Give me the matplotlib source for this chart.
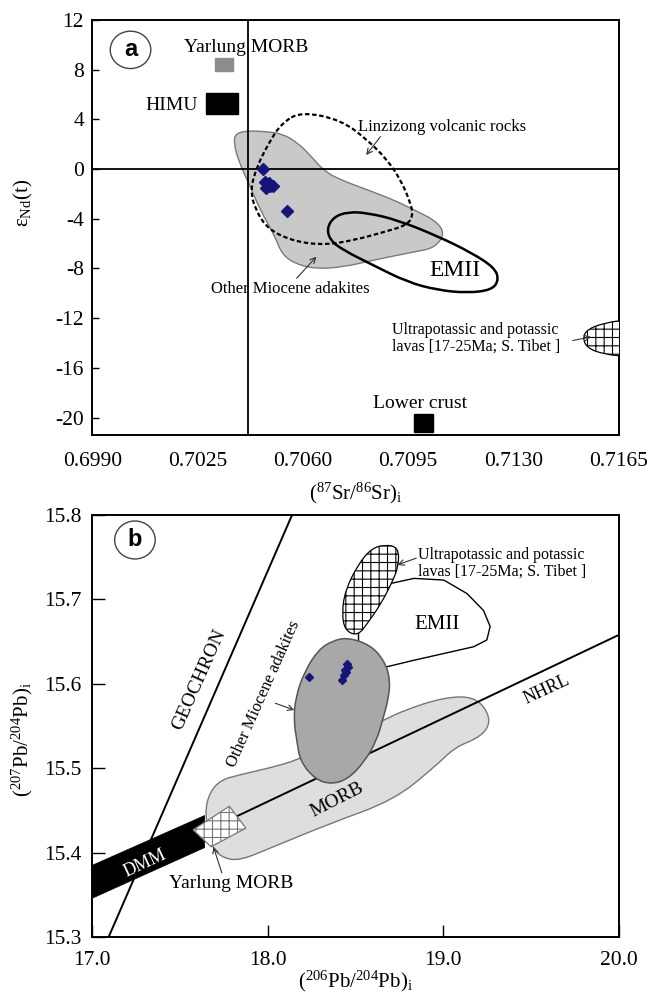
import numpy as np
import matplotlib
matplotlib.use('Agg')
import matplotlib.pyplot as plt
from matplotlib.patches import Polygon, Ellipse, Rectangle, PathPatch
from matplotlib.path import Path

plt.rcParams['font.family'] = ['Liberation Serif', 'DejaVu Serif']
plt.rcParams['mathtext.fontset'] = 'custom'
plt.rcParams['mathtext.rm'] = 'Liberation Serif'
plt.rcParams['mathtext.it'] = 'Liberation Serif:italic'
plt.rcParams['axes.unicode_minus'] = False
plt.rcParams['hatch.linewidth'] = 0.8

# ---- panel a : eNd(t) vs (87Sr/86Sr)i ----
sr_samples = [0.70467, 0.70475, 0.70486, 0.70499, 0.70478, 0.70491, 0.70546]
nd_samples = [0.0, -1.0, -1.15, -1.35, -1.5, -1.35, -3.35]

adakite_a_sr = [0.70376, 0.70420, 0.70475, 0.70529, 0.70585, 0.70628, 0.70673,
                0.70727, 0.70815, 0.70903, 0.70969, 0.71038, 0.71073, 0.71038,
                0.70969, 0.70835, 0.70736, 0.70640, 0.70568, 0.70528, 0.70508,
                0.70458, 0.70420, 0.70387, 0.70370]
adakite_a_nd = [2.88, 3.09, 3.01, 2.88, 2.08, 1.0, -0.21, -0.88, -1.68, -2.49,
                -3.29, -4.10, -5.14, -6.35, -6.67, -7.32, -7.88, -8.04, -7.56,
                -6.75, -5.44, -3.29, -1.14, 0.60, 2.10]

linzizong_sr = [0.70594, 0.70727, 0.70815, 0.70881, 0.70925, 0.70954, 0.70967,
                0.70947, 0.70871, 0.70772, 0.70673, 0.70574, 0.70486, 0.70442,
                0.70425, 0.70447, 0.70486, 0.70529]
linzizong_nd = [4.62, 3.95, 2.34, 0.73, -0.88, -2.49, -3.69, -4.50, -5.06, -5.71,
                -6.11, -5.84, -4.90, -3.29, -1.68, 0.19, 2.08, 3.69]

emii_a_sr = [0.70680, 0.70703, 0.70749, 0.70815, 0.70914, 0.71046, 0.71162,
             0.71238, 0.71251, 0.71228, 0.71145, 0.71046, 0.70947, 0.70832,
             0.70733, 0.70690]
emii_a_nd = [-4.74, -3.85, -3.45, -3.53, -4.10, -5.38, -6.75, -7.96, -8.93,
             -9.73, -9.97, -9.73, -9.09, -7.72, -6.51, -5.71]

ultra_a_sr = [0.7168, 0.7160, 0.71545, 0.7153, 0.71545, 0.7160, 0.7168]
ultra_a_nd = [-12.1, -12.4, -12.9, -13.6, -14.4, -14.9, -15.1]

# end-member boxes: (sr_min, sr_max, nd_min, nd_max)
yarlung_a = (0.70308, 0.70367, 7.92, 8.92)
himu_box = (0.70279, 0.70385, 4.41, 6.15)
lower_crust_box = (0.70970, 0.71031, -21.13, -19.71)

sr_ref = 0.70416
sr_ticks = [0.6990, 0.7025, 0.7060, 0.7095, 0.7130, 0.7165]
nd_ticks = [12, 8, 4, 0, -4, -8, -12, -16, -20]

# ---- panel b : 207Pb/204Pb vs 206Pb/204Pb ----
pb6_samples = [18.234, 18.452, 18.441, 18.447, 18.434, 18.422, 18.458]
pb7_samples = [15.608, 15.624, 15.617, 15.614, 15.611, 15.605, 15.620]

morb_x = [17.640, 17.670, 17.732, 17.834, 18.004, 18.173, 18.343, 18.643, 18.778,
          19.005, 19.174, 19.255, 19.262, 19.191, 19.067, 18.948, 18.716, 18.360,
          18.009, 17.845, 17.749, 17.675]
morb_y = [15.448, 15.472, 15.486, 15.492, 15.500, 15.510, 15.527, 15.555, 15.569,
          15.584, 15.585, 15.567, 15.549, 15.535, 15.525, 15.501, 15.462, 15.435,
          15.405, 15.391, 15.393, 15.407]

adakite_b_x = [18.456, 18.586, 18.665, 18.698, 18.686, 18.654, 18.620, 18.552,
               18.456, 18.360, 18.270, 18.185, 18.165, 18.148, 18.158, 18.210,
               18.287, 18.366]
adakite_b_y = [15.655, 15.646, 15.627, 15.605, 15.581, 15.557, 15.533, 15.508,
               15.487, 15.481, 15.487, 15.508, 15.533, 15.557, 15.584, 15.615,
               15.640, 15.651]

ultra_b_x = [18.664, 18.745, 18.745, 18.705, 18.645, 18.569, 18.513, 18.440,
             18.422, 18.442, 18.513, 18.588]
ultra_b_y = [15.765, 15.762, 15.739, 15.719, 15.695, 15.672, 15.657, 15.663,
             15.684, 15.711, 15.741, 15.760]

emii_b_x = [18.701, 18.833, 19.003, 19.135, 19.229, 19.267, 19.248, 19.173,
            19.003, 18.833, 18.673]
emii_b_y = [15.719, 15.725, 15.723, 15.707, 15.687, 15.668, 15.652, 15.644,
            15.636, 15.628, 15.620]

yarlung_b_x = [17.574, 17.781, 17.875, 17.677]
yarlung_b_y = [15.427, 15.455, 15.429, 15.407]

geochron_x = [17.093, 18.138]
geochron_y = [15.3, 15.8]
nhrl_x = [17.64, 20.0]
nhrl_y = [15.425, 15.658]
dmm_x = [17.0, 17.64, 17.64, 17.0]
dmm_y = [15.385, 15.444, 15.406, 15.346]
tie_x = [18.513, 18.513]
tie_y = [15.660, 15.647]

pb6_ticks = [17.0, 18.0, 19.0, 20.0]
pb7_ticks = [15.3, 15.4, 15.5, 15.6, 15.7, 15.8]


def smooth_outline(xs, ys, **kw):
    # closed quadratic bezier outline using the read points as control points
    pts = np.column_stack([xs, ys])
    mids = (pts + np.roll(pts, -1, axis=0)) / 2
    verts = [mids[-1]]
    codes = [Path.MOVETO]
    for i in range(len(pts)):
        verts += [pts[i], mids[i]]
        codes += [Path.CURVE3, Path.CURVE3]
    verts.append(mids[-1])
    codes.append(Path.CLOSEPOLY)
    return PathPatch(Path(verts, codes), **kw)


fig = plt.figure(figsize=(6.5, 9.94), dpi=100)
ax1 = fig.add_axes([0.142, 0.5624, 0.81, 0.4175])
ax2 = fig.add_axes([0.142, 0.0573, 0.81, 0.4245])

tick_fs = 15.5
lab_fs = 15
arrow = dict(arrowstyle='->', lw=0.8, color='#333333', shrinkA=0, shrinkB=0)

# ---------------- panel a ----------------
ax1.add_patch(smooth_outline(adakite_a_sr, adakite_a_nd, facecolor='#c9c9c9',
                             edgecolor='#7a7a7a', lw=1.0, zorder=1))
ax1.axvline(sr_ref, color='black', lw=1.3, zorder=2)
ax1.axhline(0, color='black', lw=1.3, zorder=2)
ax1.add_patch(smooth_outline(linzizong_sr, linzizong_nd, fill=False,
                             edgecolor='black', lw=1.6, ls=(0, (2, 1.2)), zorder=3))
ax1.add_patch(smooth_outline(emii_a_sr, emii_a_nd, fill=False, edgecolor='black',
                             lw=1.8, zorder=3))
ax1.add_patch(smooth_outline(ultra_a_sr, ultra_a_nd, facecolor='white',
                             edgecolor='black', lw=0.9, hatch='++', zorder=3))

for box, fc in [(yarlung_a, '#8c8c8c'), (himu_box, 'black'), (lower_crust_box, 'black')]:
    ax1.add_patch(Rectangle((box[0], box[2]), box[1] - box[0], box[3] - box[2],
                            facecolor=fc, edgecolor=fc, zorder=3))

ax1.plot(sr_samples, nd_samples, ls='none', marker='D', ms=6.5,
         color='#15157a', zorder=5)

ax1.text(0.70410, 9.75, 'Yarlung MORB', fontsize=14, ha='center', va='center')
ax1.text(0.70163, 5.15, 'HIMU', fontsize=14, ha='center', va='center')
ax1.text(0.70989, -18.85, 'Lower crust', fontsize=14, ha='center', va='center')
ax1.text(0.71106, -8.2, 'EMII', fontsize=17, ha='center', va='center')
ax1.text(0.71063, 3.4, 'Linzizong volcanic rocks', fontsize=12,
         ha='center', va='center')
ax1.annotate('', xy=(0.70810, 1.13), xytext=(0.70858, 2.61), arrowprops=arrow)
ax1.text(0.70558, -9.65, 'Other Miocene adakites', fontsize=12,
         ha='center', va='center')
ax1.annotate('', xy=(0.70645, -7.05), xytext=(0.70579, -8.79), arrowprops=arrow)
ax1.text(0.70895, -13.62, 'Ultrapotassic and potassic\nlavas [17-25Ma; S. Tibet ]',
         fontsize=11.5, ha='left', va='center', linespacing=1.05)
ax1.annotate('', xy=(0.71558, -13.5), xytext=(0.71497, -13.8), arrowprops=arrow)

ax1.set_xlim(0.6990, 0.7165)
ax1.set_ylim(-21.4, 12)
ax1.set_xticks(sr_ticks)
ax1.set_xticklabels([f'{v:.4f}' for v in sr_ticks])
ax1.set_yticks(nd_ticks)
ax1.tick_params(axis='y', direction='in', length=5, width=1.0, labelsize=tick_fs, pad=6)
ax1.tick_params(axis='x', length=0, labelsize=tick_fs, pad=12)
ax1.set_xlabel(r'($^{87}$Sr/$^{86}$Sr)$_{\mathrm{i}}$', fontsize=lab_fs)
ax1.set_ylabel(r'ε$_{\mathrm{Nd}}$(t)', fontsize=lab_fs)
ax1.xaxis.set_label_coords(0.5, -0.11)
ax1.yaxis.set_label_coords(-0.108, 0.56)

ax1.add_patch(Ellipse((0.0726, 0.928), 0.077, 0.09, transform=ax1.transAxes,
                      facecolor='white', edgecolor='#444444', lw=1.0, zorder=6))
ax1.text(0.0726, 0.928, 'a', transform=ax1.transAxes, fontsize=17,
         fontweight='bold', family='Liberation Sans', ha='center', va='center',
         zorder=7)

# ---------------- panel b ----------------
ax2.add_patch(smooth_outline(morb_x, morb_y, facecolor='#dedede',
                             edgecolor='#777777', lw=1.0, zorder=1))
ax2.plot(geochron_x, geochron_y, color='black', lw=1.4, zorder=2)
ax2.plot(nhrl_x, nhrl_y, color='black', lw=1.4, zorder=2)
ax2.add_patch(Polygon(np.column_stack([dmm_x, dmm_y]), closed=True,
                      facecolor='black', edgecolor='black', lw=0.5, zorder=3))
ax2.add_patch(Polygon(np.column_stack([yarlung_b_x, yarlung_b_y]), closed=True,
                      facecolor='white', edgecolor='#777777', lw=0.9, hatch='++',
                      zorder=3))
ax2.add_patch(smooth_outline(adakite_b_x, adakite_b_y, facecolor='#a8a8a8',
                             edgecolor='#555555', lw=1.1, zorder=3))
ax2.plot(emii_b_x, emii_b_y, color='black', lw=1.0, zorder=2)
ax2.plot(tie_x, tie_y, color='black', lw=1.0, zorder=2)
ax2.add_patch(smooth_outline(ultra_b_x, ultra_b_y, facecolor='white',
                             edgecolor='black', lw=0.9, hatch='++', zorder=4))

ax2.plot(pb6_samples, pb7_samples, ls='none', marker='D', ms=4.5,
         color='#15157a', zorder=5)

ax2.text(17.608, 15.605, 'GEOCHRON', fontsize=14, rotation=66,
         rotation_mode='anchor', ha='center', va='center')
ax2.text(19.588, 15.593, 'NHRL', fontsize=13, rotation=25,
         rotation_mode='anchor', ha='center', va='center')
ax2.text(18.397, 15.462, 'MORB', fontsize=14, rotation=27,
         rotation_mode='anchor', ha='center', va='center')
ax2.text(17.301, 15.387, 'DMM', fontsize=13, rotation=25, color='white',
         rotation_mode='anchor', ha='center', va='center', zorder=6)
ax2.text(18.965, 15.670, 'EMII', fontsize=15, ha='center', va='center')
ax2.text(17.975, 15.588, 'Other Miocene adakites', fontsize=12, rotation=66,
         rotation_mode='anchor', ha='center', va='center')
ax2.annotate('', xy=(18.151, 15.569), xytext=(18.043, 15.577), arrowprops=arrow)
ax2.text(18.858, 15.743, 'Ultrapotassic and potassic\nlavas [17-25Ma; S. Tibet ]',
         fontsize=11.5, ha='left', va='center', linespacing=1.05)
ax2.annotate('', xy=(18.739, 15.741), xytext=(18.846, 15.749), arrowprops=arrow)
ax2.text(17.791, 15.364, 'Yarlung MORB', fontsize=14, ha='center', va='center')
ax2.annotate('', xy=(17.690, 15.407), xytext=(17.738, 15.376), arrowprops=arrow)

ax2.set_xlim(17.0, 20.0)
ax2.set_ylim(15.3, 15.8)
ax2.set_xticks(pb6_ticks)
ax2.set_xticklabels([f'{v:.1f}' for v in pb6_ticks])
ax2.set_yticks(pb7_ticks)
ax2.set_yticklabels([f'{v:.1f}' for v in pb7_ticks])
ax2.tick_params(direction='in', length=9, width=1.0, labelsize=tick_fs)
ax2.tick_params(axis='x', pad=10)
ax2.tick_params(axis='y', pad=8)
ax2.set_xlabel(r'($^{206}$Pb/$^{204}$Pb)$_{\mathrm{i}}$', fontsize=lab_fs)
ax2.set_ylabel(r'($^{207}$Pb/$^{204}$Pb)$_{\mathrm{i}}$', fontsize=lab_fs)
ax2.xaxis.set_label_coords(0.5, -0.075)
ax2.yaxis.set_label_coords(-0.108, 0.467)

ax2.add_patch(Ellipse((0.081, 0.941), 0.077, 0.09, transform=ax2.transAxes,
                      facecolor='white', edgecolor='#444444', lw=1.0, zorder=6))
ax2.text(0.081, 0.941, 'b', transform=ax2.transAxes, fontsize=17,
         fontweight='bold', family='Liberation Sans', ha='center', va='center',
         zorder=7)

for ax in (ax1, ax2):
    for s in ax.spines.values():
        s.set_linewidth(1.4)

fig.savefig('out.png', dpi=100)
